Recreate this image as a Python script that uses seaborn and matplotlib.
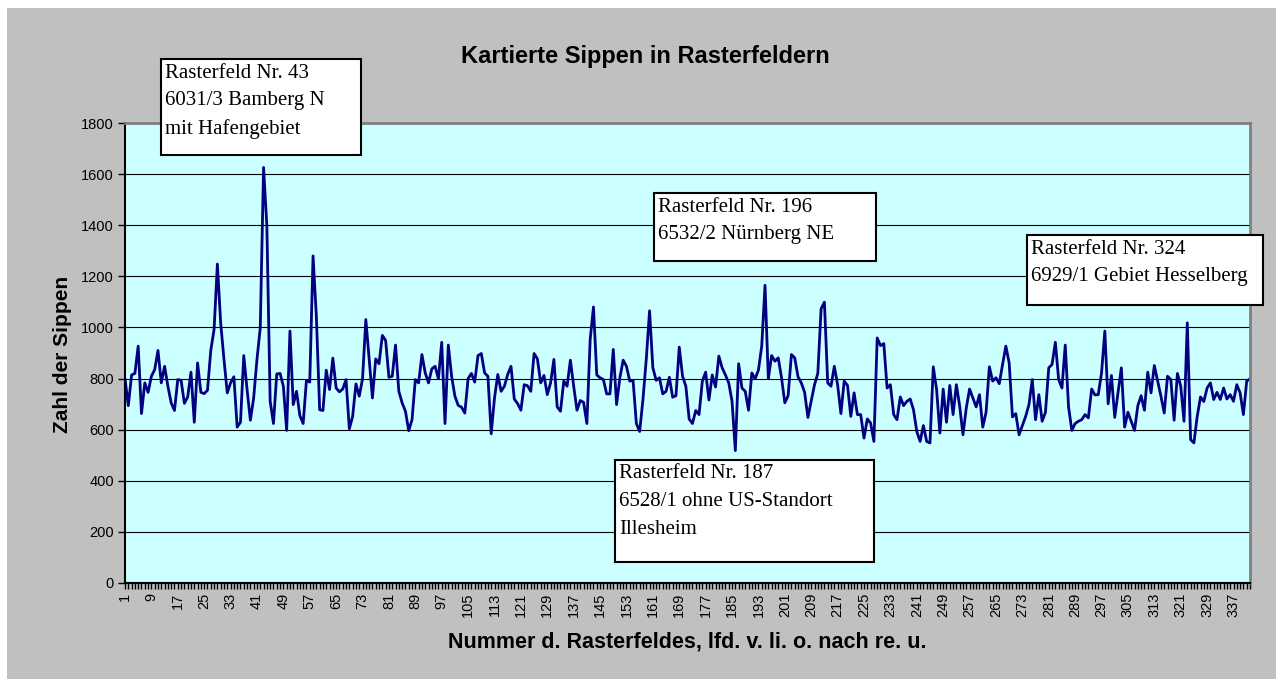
import numpy as np
import pandas as pd
import matplotlib.pyplot as plt
import seaborn as sns
from matplotlib.patches import Rectangle
from matplotlib.ticker import MultipleLocator

# number of mapped taxa per grid field
sippen = [
    800, 694, 814, 820, 927, 663, 783, 746, 809, 835, 910, 783, 848, 770, 705, 675,
    796, 793, 703, 728, 825, 629, 861, 746, 741, 754, 910, 992, 1248, 1018, 875, 744,
    783, 807, 610, 629, 890, 757, 637, 724, 875, 999, 1626, 1397, 711, 624, 818, 820,
    770, 597, 986, 698, 750, 655, 624, 793, 786, 1280,
    1044, 678, 675, 833, 757, 880, 763, 748, 759, 796, 603, 652, 779, 731, 799, 1031,
    875, 724, 877, 858, 969, 949, 805, 809, 931, 750, 705, 672, 596, 639, 796, 783,
    894, 822, 783, 838, 848, 799, 942, 624, 931, 809, 731, 695, 688, 665, 800, 820,
    786, 890, 898, 822, 809, 584, 724, 816, 750, 770,
    816, 848, 720, 702, 676, 776, 772, 750, 898, 877, 783, 812, 737, 783, 875, 689,
    672, 790, 770, 872, 770, 676, 714, 707, 624, 953, 1080, 814, 803, 796, 740, 740,
    914, 698, 803, 872, 848, 790, 793, 624, 593, 718, 875, 1065, 842, 793, 803, 740,
    750, 805, 727, 733, 923, 809, 770, 642, 624,
    675, 659, 790, 825, 716, 814, 767, 888, 842, 814, 783, 711, 518, 858, 763, 750,
    676, 822, 799, 833, 927, 1165, 799, 890, 868, 881, 803, 705, 733, 894, 881, 807,
    783, 746, 648, 711, 776, 820, 1073, 1099, 783, 770, 848, 776, 663, 790, 773, 652,
    744, 659, 659, 567, 642, 626, 554, 959, 929, 937,
    763, 776, 659, 639, 728, 694, 711, 720, 678, 593, 554, 616, 554, 548, 846, 757,
    587, 759, 629, 773, 659, 776, 692, 580, 685, 759, 724, 689, 737, 610, 668, 846,
    790, 803, 780, 855, 927, 861, 650, 663, 580, 616, 652, 698, 796, 639, 737, 633,
    668, 842, 855, 942, 796, 763, 931, 689, 597, 624,
    633, 639, 659, 646, 759, 736, 737, 822, 986, 701, 812, 648, 744, 842, 610, 668,
    633, 597, 694, 733, 676, 825, 744, 851, 790, 731, 665, 809, 796, 637, 820, 770,
    633, 1018, 561, 548, 652, 728, 710, 763, 783, 718, 746, 718, 763, 720, 737, 711,
    776, 744, 659, 790, 799,
]
feld_nr = list(range(1, len(sippen) + 1))
x_labels = list(range(1, 338, 8))
y_ticks = list(range(0, 1801, 200))

title = "Kartierte Sippen in Rasterfeldern"
x_title = "Nummer d. Rasterfeldes, lfd. v. li. o. nach re. u."
y_title = "Zahl der Sippen"

note_43 = ["Rasterfeld Nr. 43", "6031/3 Bamberg N", "mit Hafengebiet"]
note_196 = ["Rasterfeld Nr. 196", "6532/2 Nürnberg NE"]
note_324 = ["Rasterfeld Nr. 324", "6929/1 Gebiet Hesselberg"]
note_187 = ["Rasterfeld Nr. 187", "6528/1 ohne US-Standort", "Illesheim"]

df = pd.DataFrame({"feld": feld_nr, "sippen": sippen})

sns.set_style("white")
plt.rcParams['font.family'] = ['Liberation Sans', 'DejaVu Sans']
plt.rcParams['text.color'] = 'black'
plt.rcParams['xtick.color'] = 'black'
plt.rcParams['ytick.color'] = 'black'
plt.rcParams['xtick.labelcolor'] = 'black'
plt.rcParams['ytick.labelcolor'] = 'black'

W, H = 1283, 686
fig = plt.figure(figsize=(W / 100, H / 100), dpi=100)
fig.patch.set_facecolor("white")


def fx(px):
    return px / W


def fy(py):
    return 1 - py / H


# grey chart area
fig.patches.append(Rectangle((fx(7), fy(679)), fx(1269), 671 / H, transform=fig.transFigure,
                             facecolor="#C0C0C0", edgecolor="none", zorder=-10))

ax = fig.add_axes([fx(125), fy(583), 1125 / W, 460 / H])
ax.set_facecolor("#CCFFFF")
sns.lineplot(data=df, x="feld", y="sippen", ax=ax, color="#000080", linewidth=2)

ax.set_xlim(1, len(sippen))
ax.set_ylim(0, 1800)
ax.set_yticks(y_ticks)
ax.set_yticklabels([str(v) for v in y_ticks], fontsize=10.5, color="black")
ax.set_xticks(x_labels)
ax.set_xticklabels([str(v) for v in x_labels], rotation=90, fontsize=10.5, color="black")
ax.xaxis.set_minor_locator(MultipleLocator(1))
ax.tick_params(axis="x", which="both", direction="out", length=4, width=1, color="black", bottom=True, pad=3)
ax.tick_params(axis="y", which="major", direction="out", length=5, width=1, color="black", left=True, pad=3)
ax.yaxis.grid(True, color="black", linewidth=0.8)
ax.set_axisbelow(True)

for s in ["left", "bottom"]:
    ax.spines[s].set_color("black")
    ax.spines[s].set_linewidth(1.5)
for s in ["top", "right"]:
    ax.spines[s].set_color("#808080")
    ax.spines[s].set_linewidth(2)

ax.set_xlabel("")
ax.set_ylabel("")
fig.text(fx(645), fy(57), title, ha="center", va="center", fontsize=17, fontweight="bold", color="black")
fig.text(fx(687), fy(642), x_title, ha="center", va="center", fontsize=15.5, fontweight="bold", color="black")
fig.text(fx(62), fy(354), y_title, ha="center", va="center", rotation=90, fontsize=15, fontweight="bold",
         color="black")


def note_box(x0, y0, x1, y1, lines, line_y, tx):
    fig.patches.append(Rectangle((fx(x0), fy(y1)), (x1 - x0) / W, (y1 - y0) / H, transform=fig.transFigure,
                                 facecolor="white", edgecolor="black", linewidth=1.5, zorder=5))
    for txt, ly in zip(lines, line_y):
        fig.text(fx(tx), fy(ly), txt, ha="left", va="center", fontsize=15, color="black",
                 family=["Liberation Serif", "DejaVu Serif"], zorder=6)


note_box(161, 59, 361, 155, note_43, [74, 101, 129], 165)
note_box(654, 193, 876, 261, note_196, [207, 235], 658)
note_box(1027, 235, 1263, 305, note_324, [249, 277], 1031)
note_box(615, 460, 874, 562, note_187, [473, 502, 530], 619)

fig.savefig("out.png", dpi=100)
